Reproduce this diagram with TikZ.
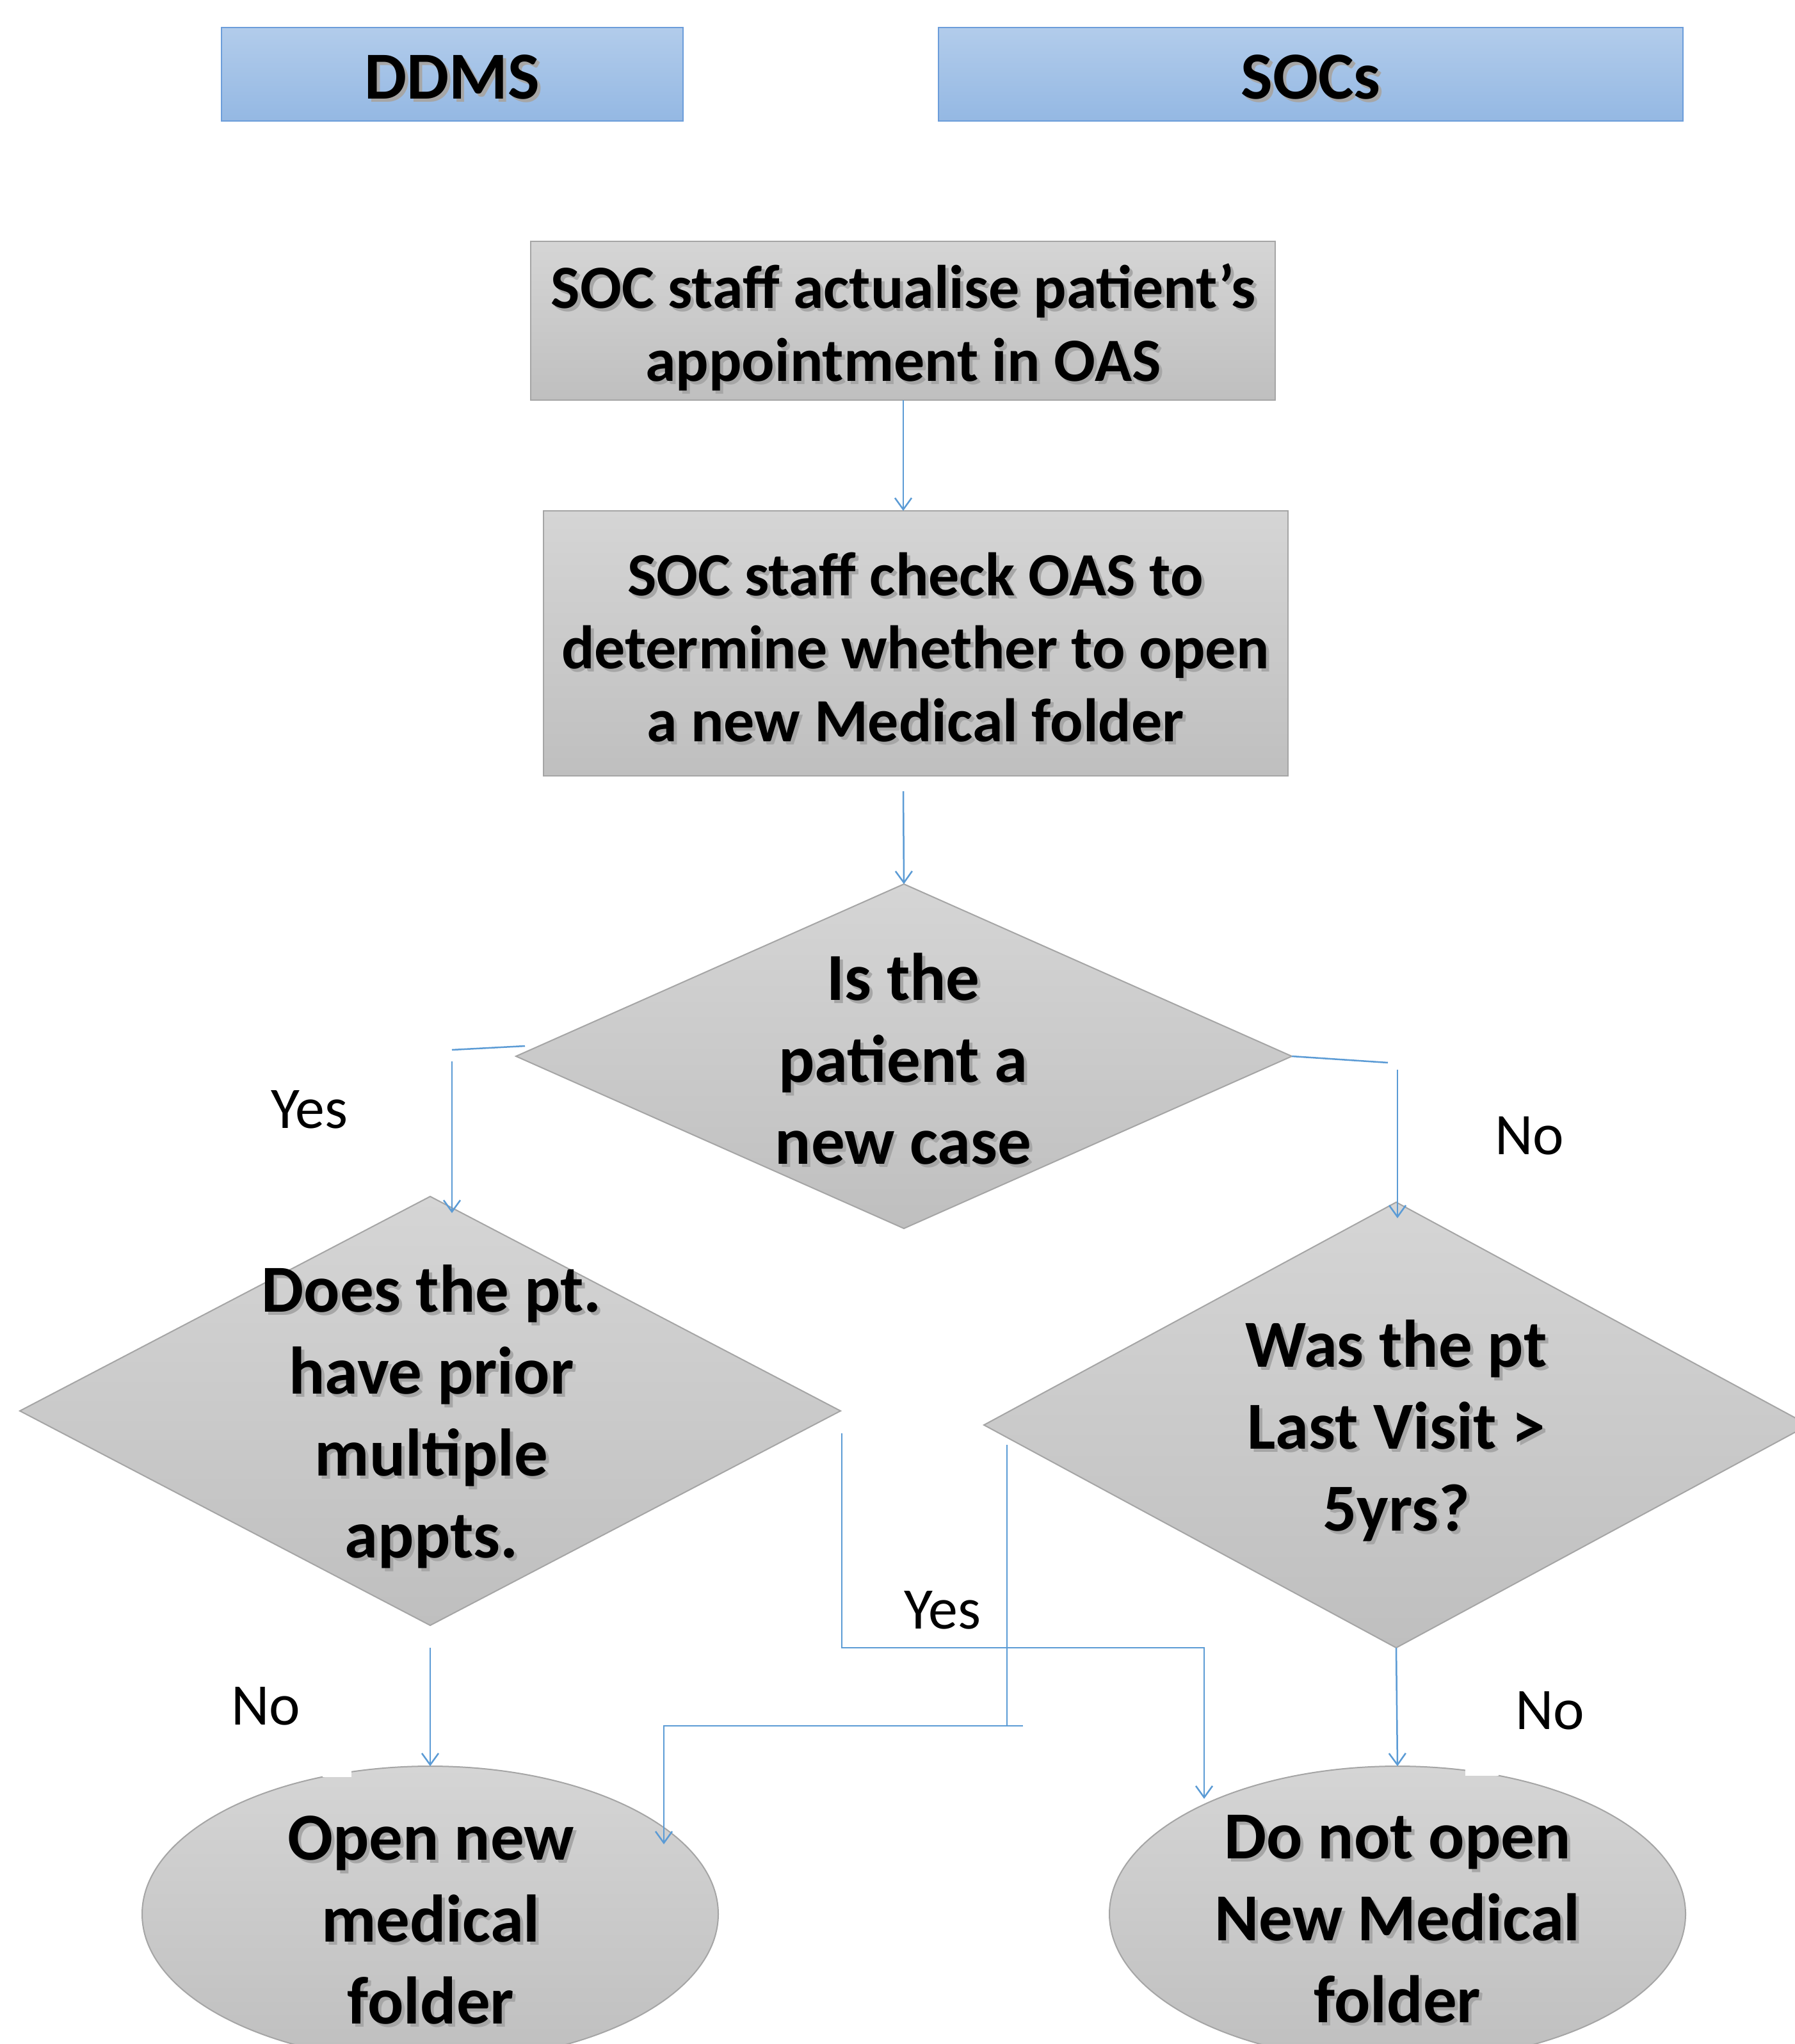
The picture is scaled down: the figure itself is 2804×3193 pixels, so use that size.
\documentclass[tikz,border=0pt]{standalone}
\usepackage{fontspec}
\setmainfont{Carlito}
\usetikzlibrary{shapes.geometric,arrows.meta}
\definecolor{conn}{RGB}{91,155,213}
\definecolor{hdtop}{RGB}{178,204,235}
\definecolor{hdbot}{RGB}{148,184,227}
\definecolor{hdline}{RGB}{108,157,218}
\definecolor{gtop}{RGB}{213,213,213}
\definecolor{gbot}{RGB}{191,191,191}
\definecolor{gline}{RGB}{165,165,165}
\newcommand\shd[1]{\makebox[0pt][l]{\hspace{5pt}\raisebox{-5pt}{\textcolor{black!35}{#1}}}#1}
\begin{document}
\begin{tikzpicture}[x=1pt,y=-1pt,
  hdr/.style={rectangle, top color=hdtop, bottom color=hdbot, draw=hdline, line width=2.5pt,
    inner sep=0pt, outer sep=0pt, minimum height=146pt},
  hdrtext/.style={inner sep=0pt, font=\fontsize{105}{128}\selectfont\bfseries},
  procbox/.style={rectangle, top color=gtop, bottom color=gbot, draw=gline, line width=2pt,
    inner sep=0pt, outer sep=0pt},
  proctext/.style={align=center, inner sep=0pt, font=\fontsize{96}{114}\selectfont\bfseries},
  decision/.style={diamond, top color=gtop, bottom color=gbot, draw=gline, line width=2pt,
    inner sep=0pt, outer sep=0pt},
  endnode/.style={ellipse, top color=gtop, bottom color=gbot, draw=gline, line width=2pt,
    inner sep=0pt, outer sep=0pt},
  bigtext/.style={align=center, inner sep=0pt, font=\fontsize{105}{128}\selectfont\bfseries},
  lbl/.style={inner sep=0pt, font=\fontsize{92}{110}\selectfont},
  conline/.style={draw=conn, line width=2.5pt},
  conarrow/.style={conline, -{Straight Barb[length=18pt,width=26pt,line width=2.5pt]}}
]
\useasboundingbox[fill=white] (0,0) rectangle (2804,3193);

% headers
\node[hdr, minimum width=721pt] (ddms) at (706.5,116) {};
\node[hdrtext] (ddmst) at (706.5,123) {\shd{DDMS}};
\node[hdr, minimum width=1163pt] (socs) at (2047.5,116) {};
\node[hdrtext] (socst) at (2047.5,123) {\shd{SOCs}};

% process boxes
\node[procbox, minimum width=1163pt, minimum height=248pt] (box1) at (1410.5,501) {};
\node[proctext] (box1t) at (1411,514)
  {\shd{SOC staff actualise patient’s}\\\shd{appointment in OAS}};
\node[procbox, minimum width=1163pt, minimum height=414pt] (box2) at (1430.5,1005) {};
\node[proctext] (box2t) at (1430,1014)
  {\shd{SOC staff check OAS to}\\\shd{determine whether to open}\\\shd{a new Medical folder}};

% decisions
\node[decision, minimum width=1212pt, minimum height=538pt] (d1) at (1412,1650) {};
\node[bigtext] (d1t) at (1411,1657) {\shd{Is the}\\\shd{patient a}\\\shd{new case}};
\node[decision, minimum width=1282pt, minimum height=670pt] (d2) at (672,2204) {};
\node[bigtext] (d2t) at (674,2215) {\shd{Does the pt.}\\\shd{have prior}\\\shd{multiple}\\\shd{appts.}};
\node[decision, minimum width=1288pt, minimum height=696pt] (d3) at (2181,2226) {};
\node[bigtext] (d3t) at (2181,2237) {\shd{Was the pt}\\\shd{Last Visit >}\\\shd{5yrs?}};

% terminal ellipses
\node[endnode, minimum width=900pt, minimum height=462pt] (e1) at (672,2990) {};
\fill[white] (504,2755) rectangle (549,2776);
\node[bigtext] (e1t) at (673,3002) {\shd{Open new}\\\shd{medical}\\\shd{folder}};
\node[endnode, minimum width=900pt, minimum height=462pt] (e2) at (2183,2990) {};
\fill[white] (2289,2755) rectangle (2341,2774);
\node[bigtext] (e2t) at (2183,3000) {\shd{Do not open}\\\shd{New Medical}\\\shd{folder}};

% labels
\node[lbl] (l1) at (483,1733) {Yes};
\node[lbl] (l2) at (2389,1774) {No};
\node[lbl] (l3) at (415,2665) {No};
\node[lbl] (l4) at (2421,2672) {No};
\node[lbl] (l5) at (1472,2515) {Yes};

% coordinates for connector ends
\coordinate (a2s) at (1411,1236);
\coordinate (yl1) at (820,1634);
\coordinate (yl2) at (706,1640);
\coordinate (yl3) at (706,1658);
\coordinate (yl4) at (706,1895);
\coordinate (nr1) at (2168,1660);
\coordinate (nr2) at (2183,1671);
\coordinate (nr3) at (2183,1903);
\coordinate (n2s) at (672,2574);
\coordinate (y2a) at (1315,2239);
\coordinate (y2b) at (1315,2574);
\coordinate (y2c) at (1881,2574);
\coordinate (y2d) at (1881,2810);
\coordinate (y3a) at (1573,2257);
\coordinate (y3b) at (1573,2696);
\coordinate (y3c) at (1598,2696);
\coordinate (y3d) at (1037,2696);
\coordinate (y3e) at (1037,2881);

% connectors
\draw[conarrow] (box1.south -| a2s) -- (box2.north -| a2s);
\draw[conarrow] (a2s) -- (d1.north);
\draw[conline] (yl1) -- (yl2);
\draw[conarrow] (yl3) -- (yl4);
\draw[conline] (d1.east) -- (nr1);
\draw[conarrow] (nr2) -- (nr3);
\draw[conarrow] (n2s) -- (e1.north);
\draw[conarrow] (y2a) -- (y2b) -- (y2c) -- (y2d);
\draw[conline] (y3a) -- (y3b);
\draw[conarrow] (y3c) -- (y3d) -- (y3e);
\draw[conarrow] (d3.south) -- (e2.north);
\end{tikzpicture}
\end{document}
